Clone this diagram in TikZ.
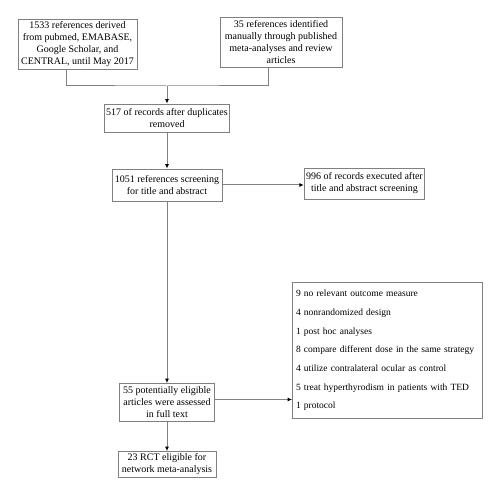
\documentclass[tikz,border=0pt]{standalone}
\usepackage{fontspec}
\setmainfont{Liberation Serif}
\usetikzlibrary{arrows.meta}

\tikzset{
  box/.style={draw=gray, line width=0.8pt, align=center, inner sep=2pt,
    font=\fontsize{10}{12}\selectfont},
  link/.style={draw=gray, line width=1pt},
  flow/.style={link, -{Latex[length=4.5pt,width=4pt,color=black]}}
}

\begin{document}
\begin{tikzpicture}[x=1pt,y=1pt]
  \useasboundingbox (0,0) rectangle (500,495);

  \node[box, minimum width=119pt, minimum height=49pt] (pubmed) at (77.5,450.5)
    {1533 references derived\\ from pubmed, EMABASE,\\ Google Scholar, and\\ CENTRAL, until May 2017};
  \node[box, minimum width=122pt, minimum height=50pt] (manual) at (281,453)
    {35 references identified\\ manually through published\\ meta-analyses and review\\ articles};
  \node[box, minimum width=122pt, minimum height=28pt] (dup) at (167,377)
    {517 of records after duplicates\\ removed};
  \node[box, minimum width=110pt, minimum height=32pt] (screen) at (167,310)
    {1051 references screening\\ for title and abstract};
  \node[box, minimum width=119pt, minimum height=31pt] (excl) at (364.5,311.5)
    {996 of records executed after\\ title and abstract screening};
  \node[box, minimum width=95pt, minimum height=38pt] (full) at (167,92.5)
    {55 potentially eligible\\ articles were assessed\\ in full text};
  \node[box, align=left, text width=183pt, inner xsep=3.5pt, minimum height=136pt,
    font=\fontsize{9.5}{18.7}\selectfont] (reasons) at (387.5,144.5)
    {9 no relevant outcome measure\\
     4 nonrandomized design\\
     1 post hoc analyses\\
     8 compare different dose in the same strategy\\
     4 utilize contralateral ocular as control\\
     5 treat hyperthyrodism in patients with TED\\
     1 protocol};
  \node[box, minimum width=98pt, minimum height=26pt] (rct) at (167,30.5)
    {23 RCT eligible for\\ network meta-analysis};

  \coordinate (merge) at (167,409);
  \draw[link] ([xshift=-11pt]pubmed.south) |- (merge) -| ([xshift=-13pt]manual.south);
  \draw[flow] (merge) -- (dup.north);
  \draw[flow] (dup) -- (screen);
  \draw[flow] (screen.east) -- (screen.east -| excl.west);
  \draw[flow] (screen) -- (full);
  \draw[flow] ([yshift=3pt]full.east) -- ([yshift=3pt]full.east -| reasons.west);
  \draw[flow] (full) -- (rct);
\end{tikzpicture}
\end{document}
